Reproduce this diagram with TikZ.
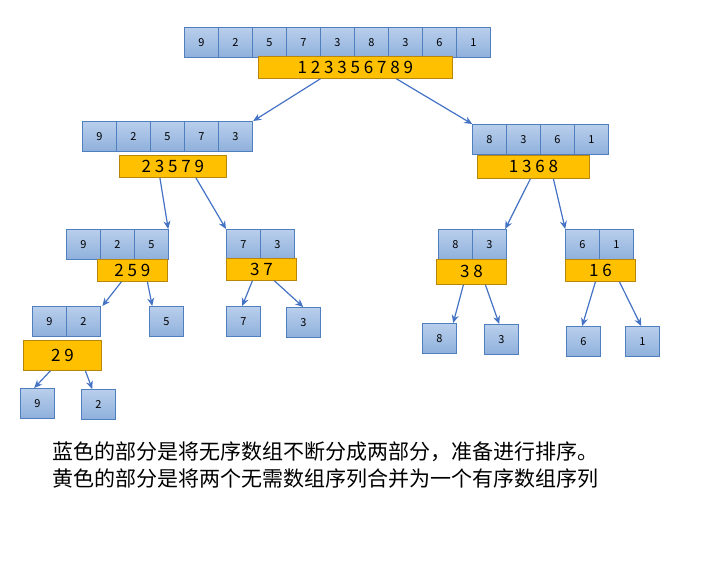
\documentclass[tikz,border=0pt]{standalone}
\usepackage{fontspec}
\setmainfont{Noto Sans CJK SC}
\usetikzlibrary{arrows.meta}
\definecolor{cellbd}{HTML}{4F7FBF}
\definecolor{celltop}{HTML}{B9CFEC}
\definecolor{cellbot}{HTML}{8FB0DC}
\definecolor{ybd}{HTML}{B8860B}
\definecolor{yfill}{HTML}{FFC000}
\definecolor{arrc}{HTML}{4472C4}
\begin{document}
\begin{tikzpicture}[x=1pt,y=-1pt,
  cell/.style={draw=cellbd,line width=0.8pt,top color=celltop,bottom color=cellbot,minimum width=34pt,minimum height=30pt,inner sep=0,anchor=north west,font=\fontsize{11}{11}\selectfont},
  ybox/.style={draw=ybd,line width=0.8pt,fill=yfill,inner sep=0,anchor=north west,font=\fontsize{17}{17}\selectfont},
  grp/.style={inner sep=0,anchor=north west},
  arr/.style={draw=arrc,line width=1.2pt,-{Stealth[length=8pt,width=7pt]}}]
\useasboundingbox (0,0) rectangle (711,562);
\newcommand\cellsof[5]{% name x y n list
  \node[grp,minimum width={34*#4},minimum height=30] (#1) at (#2,#3) {};
  \foreach \v [count=\i from 0] in {#5} {\node[cell] (#1-\i) at ({#2+34*\i},#3) {\v};}%
}
\newcommand\ybox[6]{% name x y w h text
  \node[ybox,minimum width=#4,minimum height=#5] (#1) at (#2,#3) {#6};}
% level 1
\cellsof{c0}{184}{27}{9}{9,2,5,7,3,8,3,6,1}
\ybox{y0}{258}{56}{194}{22}{1 2 3 3 5 6 7 8 9}
% level 2
\cellsof{cL}{82}{121}{5}{9,2,5,7,3}
\ybox{yL}{119}{155}{107}{22}{2 3 5 7 9}
\cellsof{cR}{472}{124}{4}{8,3,6,1}
\ybox{yR}{477}{155}{112}{23}{1 3 6 8}
% level 3
\cellsof{cLL}{66}{229}{3}{9,2,5}
\ybox{yLL}{97}{259}{70}{22}{2 5 9}
\cellsof{cLR}{226}{229}{2}{7,3}
\ybox{yLR}{226}{258}{70}{22}{3 7}
\cellsof{cRL}{438}{229}{2}{8,3}
\ybox{yRL}{436}{259}{70}{25}{3 8}
\cellsof{cRR}{565}{229}{2}{6,1}
\ybox{yRR}{565}{259}{70}{22}{1 6}
% level 4
\cellsof{cA}{32}{306}{2}{9,2}
\ybox{yA}{23}{340}{78}{30}{2 9}
\cellsof{c5}{149}{306}{1}{5}
\cellsof{c7}{226}{306}{1}{7}
\cellsof{c3a}{286}{307}{1}{3}
\cellsof{c8}{422}{323}{1}{8}
\cellsof{c3b}{484}{324}{1}{3}
\cellsof{c6}{566}{326}{1}{6}
\cellsof{c1}{625}{326}{1}{1}
% level 5
\cellsof{c9}{20}{388}{1}{9}
\cellsof{c2}{81}{389}{1}{2}
% arrows
\draw[arr] ([xshift=-35]y0.south) -- ([xshift=86]cL.north);
\draw[arr] ([xshift=41]y0.south) -- ([xshift=-68]cR.north);
\draw[arr] ([xshift=-13]yL.south) -- ([xshift=51]cLL.north);
\draw[arr] ([xshift=23]yL.south) -- (cLR.north west);
\draw[arr] ([xshift=-3]yR.south) -- ([xshift=33]cRL.north);
\draw[arr] ([xshift=20]yR.south) -- ([xshift=-34]cRR.north);
\draw[arr] ([xshift=-11]yLL.south) -- ([xshift=2]cA.north east);
\draw[arr] ([xshift=15]yLL.south) -- ([xshift=-14]c5.north);
\draw[arr] ([xshift=-9]yLR.south) -- ([xshift=-1]c7.north);
\draw[arr] ([xshift=13]yLR.south) -- (c3a.north);
\draw[arr] ([xshift=-8]yRL.south) -- ([xshift=14]c8.north);
\draw[arr] ([xshift=14]yRL.south) -- ([xshift=-2]c3b.north);
\draw[arr] ([xshift=-5]yRR.south) -- ([xshift=-1]c6.north);
\draw[arr] ([xshift=19]yRR.south) -- ([xshift=-1]c1.north);
\draw[arr] ([xshift=-12]yA.south) -- ([xshift=-3]c9.north);
\draw[arr] ([xshift=23]yA.south) -- ([xshift=-6]c2.north);
% caption
\node[anchor=west,font=\fontsize{21}{24}\selectfont,inner sep=0] (t1) at (52,452) {蓝色的部分是将无序数组不断分成两部分，准备进行排序。};
\node[anchor=west,font=\fontsize{21}{24}\selectfont,inner sep=0] (t2) at (52,479) {黄色的部分是将两个无需数组序列合并为一个有序数组序列};
\end{tikzpicture}
\end{document}
